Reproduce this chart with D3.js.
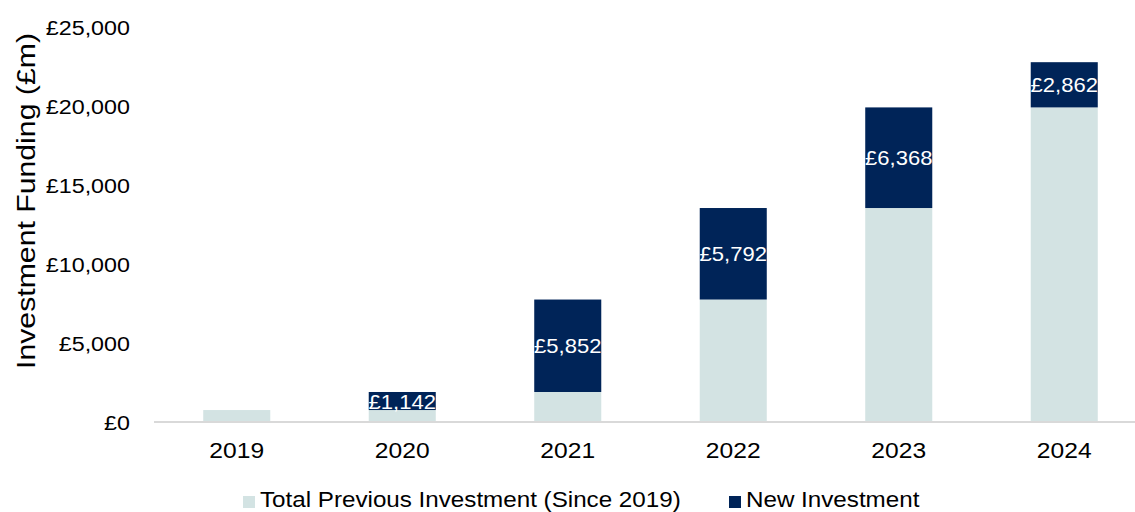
<!DOCTYPE html>
<html>
<head>
<meta charset="utf-8">
<script src="https://cdn.jsdelivr.net/npm/d3@7"></script>
<style>
  html, body { margin: 0; padding: 0; background: #fff; }
  svg { display: block; font-family: "Liberation Sans", Arial, sans-serif; }
</style>
</head>
<body>
<svg id="chart" width="1135" height="512"></svg>
<script>
// Cumulative investment funding by year (£m)
const years = ["2019", "2020", "2021", "2022", "2023", "2024"];
const previousInvestment = [757, 757, 1899, 7751, 13543, 19911];
const newInvestment = [0, 1142, 5852, 5792, 6368, 2862];
const yTicks = [0, 5000, 10000, 15000, 20000, 25000];
const seriesNames = ["Total Previous Investment (Since 2019)", "New Investment"];
const colors = ["#d3e3e3", "#002458"];

const svg = d3.select("#chart");
const WIDE = 1.11; // horizontal text stretch

const x = d3.scaleBand()
  .domain(years)
  .range([154, 1147])
  .paddingInner(0.595)
  .paddingOuter(0.2975);

const y = d3.scaleLinear()
  .domain([0, 25000])
  .range([422, 27]);

const fmt = v => "£" + d3.format(",")(v);

// place a text at (px, py) with the horizontal stretch
const placed = (px, py, sx = WIDE) => `translate(${px},${py}) scale(${sx},1)`;

// Y tick labels (no axis line, no gridlines)
svg.append("g")
  .selectAll("text")
  .data(yTicks)
  .join("text")
  .attr("transform", d => placed(130, y(d) + 8))
  .attr("text-anchor", "end")
  .attr("font-size", 21)
  .attr("fill", "#000")
  .text(fmt);

// Y axis title
svg.append("text")
  .attr("transform", `translate(35, 201) rotate(-90) scale(1.12,0.97)`)
  .attr("text-anchor", "middle")
  .attr("font-size", 27)
  .attr("fill", "#000")
  .text("Investment Funding (£m)");

// Stacked bars
const barG = svg.append("g");
years.forEach((yr, i) => {
  const prev = previousInvestment[i];
  const add = newInvestment[i];
  barG.append("rect")
    .attr("x", x(yr))
    .attr("width", x.bandwidth())
    .attr("y", y(prev))
    .attr("height", y(0) - y(prev))
    .attr("fill", colors[0]);
  if (add > 0) {
    barG.append("rect")
      .attr("x", x(yr))
      .attr("width", x.bandwidth())
      .attr("y", y(prev + add))
      .attr("height", y(prev) - y(prev + add))
      .attr("fill", colors[1]);
    barG.append("text")
      .attr("transform", placed(x(yr) + x.bandwidth() / 2, (y(prev) + y(prev + add)) / 2 + 7.5, 1.1))
      .attr("text-anchor", "middle")
      .attr("font-size", 20)
      .attr("fill", "#fff")
      .text(fmt(add));
  }
});

// X axis baseline and category labels
const xAxis = d3.axisBottom(x).tickSize(0).tickFormat("");
const xg = svg.append("g")
  .attr("transform", `translate(0, ${y(0)})`)
  .call(xAxis);
xg.select(".domain")
  .attr("d", `M154,0H1135`)
  .attr("stroke", "#d9d9d9")
  .attr("stroke-width", 2);
svg.append("g")
  .selectAll("text")
  .data(years)
  .join("text")
  .attr("transform", d => placed(x(d) + x.bandwidth() / 2, 458, 1.12))
  .attr("text-anchor", "middle")
  .attr("font-size", 22)
  .attr("fill", "#000")
  .text(d => d);

// Legend
const legendItems = [
  { name: seriesNames[0], color: colors[0], x: 243 },
  { name: seriesNames[1], color: colors[1], x: 729 }
];
const lg = svg.append("g");
legendItems.forEach(d => {
  lg.append("rect")
    .attr("x", d.x)
    .attr("y", 496)
    .attr("width", 12)
    .attr("height", 12)
    .attr("fill", d.color);
  lg.append("text")
    .attr("transform", placed(d.x + 17, 507, 1.1))
    .attr("font-size", 22)
    .attr("fill", "#000")
    .text(d.name);
});
</script>
</body>
</html>
